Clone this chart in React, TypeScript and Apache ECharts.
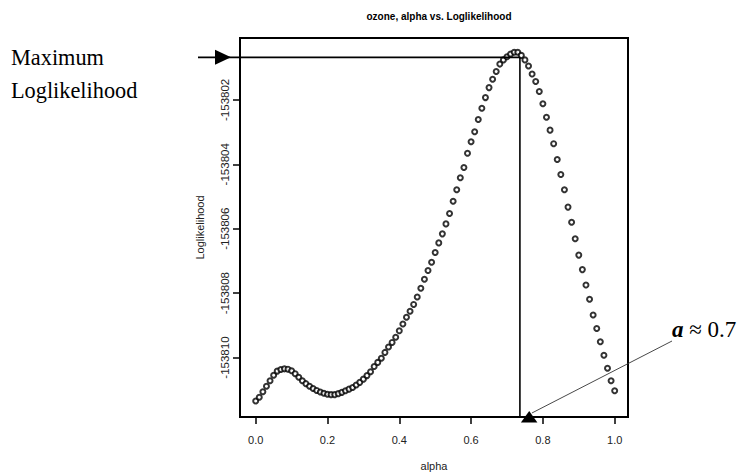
import { useEffect, useRef } from "react";
import * as echarts from "echarts";

// ---- data ----
const alpha: number[] = [
  0.0, 0.01, 0.02, 0.03, 0.04, 0.05, 0.06, 0.07, 0.08, 0.09,
  0.1, 0.11, 0.12, 0.13, 0.14, 0.15, 0.16, 0.17, 0.18, 0.19,
  0.2, 0.21, 0.22, 0.23, 0.24, 0.25, 0.26, 0.27, 0.28, 0.29,
  0.3, 0.31, 0.32, 0.33, 0.34, 0.35, 0.36, 0.37, 0.38, 0.39,
  0.4, 0.41, 0.42, 0.43, 0.44, 0.45, 0.46, 0.47, 0.48, 0.49,
  0.5, 0.51, 0.52, 0.53, 0.54, 0.55, 0.56, 0.57, 0.58, 0.59,
  0.6, 0.61, 0.62, 0.63, 0.64, 0.65, 0.66, 0.67, 0.68, 0.69,
  0.7, 0.71, 0.72, 0.73, 0.74, 0.75, 0.76, 0.77, 0.78, 0.79,
  0.8, 0.81, 0.82, 0.83, 0.84, 0.85, 0.86, 0.87, 0.88, 0.89,
  0.9, 0.91, 0.92, 0.93, 0.94, 0.95, 0.96, 0.97, 0.98, 0.99,
  1.0,
];

const loglik: number[] = [
  -153811.35, -153811.23, -153811.06, -153810.89, -153810.72, -153810.55, -153810.42, -153810.37, -153810.35, -153810.36,
  -153810.41, -153810.5, -153810.61, -153810.72, -153810.81, -153810.89, -153810.96, -153811.02, -153811.07, -153811.11,
  -153811.14, -153811.15, -153811.15, -153811.12, -153811.08, -153811.03, -153810.98, -153810.93, -153810.85, -153810.77,
  -153810.67, -153810.56, -153810.44, -153810.28, -153810.15, -153810.02, -153809.84, -153809.67, -153809.53, -153809.37,
  -153809.17, -153808.96, -153808.75, -153808.56, -153808.35, -153808.12, -153807.85, -153807.57, -153807.3, -153807.04,
  -153806.74, -153806.44, -153806.16, -153805.85, -153805.53, -153805.15, -153804.79, -153804.42, -153804.1, -153803.66,
  -153803.3, -153802.99, -153802.61, -153802.26, -153801.93, -153801.62, -153801.36, -153801.12, -153800.89, -153800.76,
  -153800.66, -153800.58, -153800.52, -153800.52, -153800.62, -153800.76, -153800.95, -153801.2, -153801.43, -153801.74,
  -153802.12, -153802.54, -153802.94, -153803.36, -153803.85, -153804.32, -153804.79, -153805.33, -153805.8, -153806.31,
  -153806.82, -153807.27, -153807.75, -153808.19, -153808.68, -153809.1, -153809.51, -153809.93, -153810.33, -153810.72,
  -153811.03,
];

const xTicks: number[] = [0, 0.2, 0.4, 0.6, 0.8, 1.0];
const yTicks: number[] = [-153810, -153808, -153806, -153804, -153802];

const X_MIN = -0.0437;
const X_MAX = 1.0371;
const Y_MIN = -153811.845;
const Y_MAX = -153800.08;

const ALPHA_HAT = 0.736;
const LL_MAX_LINE = -153800.68;

const TITLE = "ozone, alpha vs. Loglikelihood";
const X_NAME = "alpha";
const Y_NAME = "Loglikelihood";

export default function App() {
  const ref = useRef<HTMLDivElement>(null);

  useEffect(() => {
    const chart = echarts.init(ref.current!, null, { renderer: "svg" });
    const sans = "'Liberation Sans', Arial, sans-serif";
    const serif = "'Liberation Serif', 'Times New Roman', serif";

    chart.setOption({
      animation: false,
      backgroundColor: "#fff",
      title: {
        text: TITLE,
        left: 434,
        top: 6,
        textAlign: "center",
        textStyle: { fontFamily: sans, fontSize: 10, fontWeight: "bold", color: "#000" },
      },
      grid: {
        left: 240,
        right: 116,
        top: 38,
        bottom: 58,
        show: true,
        borderColor: "#000",
        borderWidth: 2,
        backgroundColor: "transparent",
      },
      xAxis: {
        type: "value",
        min: X_MIN,
        max: X_MAX,
        name: X_NAME,
        nameLocation: "middle",
        nameGap: 43,
        nameTextStyle: { fontFamily: sans, fontSize: 11, color: "#222" },
        axisLine: { show: false, onZero: false },
        splitLine: { show: false },
        axisTick: {
          show: true,
          length: 7,
          customValues: xTicks,
          lineStyle: { color: "#000", width: 1.5 },
        },
        axisLabel: {
          customValues: xTicks,
          margin: 17,
          fontFamily: sans,
          fontSize: 11,
          color: "#222",
          formatter: (v: number) => v.toFixed(1),
        },
      },
      yAxis: {
        type: "value",
        min: Y_MIN,
        max: Y_MAX,
        name: Y_NAME,
        nameLocation: "middle",
        nameGap: 35,
        nameTextStyle: { fontFamily: sans, fontSize: 11, color: "#222" },
        axisLine: { show: false, onZero: false },
        splitLine: { show: false },
        axisTick: {
          show: true,
          length: 7,
          customValues: yTicks,
          lineStyle: { color: "#000", width: 1.5 },
        },
        axisLabel: {
          customValues: yTicks,
          rotate: 90,
          margin: 9,
          fontFamily: sans,
          fontSize: 11.5,
          color: "#222",
          formatter: (v: number) => String(Math.round(v)),
        },
      },
      series: [
        {
          type: "scatter",
          data: alpha.map((a, i) => [a, loglik[i]]),
          symbol: "emptyCircle",
          symbolSize: 5,
          itemStyle: { color: "#000", borderColor: "#000", borderWidth: 1.7 },
          z: 3,
        },
      ],
    });

    const [px, py] = chart.convertToPixel({ gridIndex: 0 }, [ALPHA_HAT, LL_MAX_LINE]) as number[];
    const [, pyBottom] = chart.convertToPixel({ gridIndex: 0 }, [ALPHA_HAT, Y_MIN]) as number[];

    chart.setOption({
      graphic: [
        {
          type: "line",
          z: 100,
          shape: { x1: 198, y1: py, x2: px, y2: py },
          style: { stroke: "#000", lineWidth: 1.6 },
        },
        {
          type: "polygon",
          z: 100,
          shape: { points: [[215, py - 7.5], [231, py], [215, py + 7.5]] },
          style: { fill: "#000" },
        },
        {
          type: "line",
          z: 100,
          shape: { x1: px, y1: py, x2: px, y2: pyBottom },
          style: { stroke: "#000", lineWidth: 1.6 },
        },
        {
          type: "polygon",
          z: 100,
          shape: {
            points: [
              [px + 1, pyBottom + 5.5],
              [px + 9.3, pyBottom - 6],
              [px + 17.5, pyBottom + 5.5],
            ],
          },
          style: { fill: "#000" },
        },
        {
          type: "line",
          z: 100,
          shape: { x1: px + 12, y1: pyBottom - 4, x2: 672, y2: 341 },
          style: { stroke: "#333", lineWidth: 0.9 },
        },
        {
          type: "text",
          z: 100,
          x: 11,
          y: 57,
          scaleX: 0.93,
          style: {
            text: "Maximum",
            fontFamily: serif,
            fontSize: 24,
            fill: "#000",
            verticalAlign: "middle",
          },
        },
        {
          type: "text",
          z: 100,
          x: 11,
          y: 90,
          scaleX: 0.93,
          style: {
            text: "Loglikelihood",
            fontFamily: serif,
            fontSize: 24,
            fill: "#000",
            verticalAlign: "middle",
          },
        },
        {
          type: "text",
          z: 100,
          x: 672,
          y: 329,
          style: {
            text: "{a|a} ≈ 0.7",
            fontFamily: serif,
            fontSize: 23,
            fill: "#000",
            verticalAlign: "middle",
            rich: {
              a: { fontFamily: serif, fontSize: 23, fontWeight: "bold", fontStyle: "italic", fill: "#000" },
            },
          },
        },
      ],
    });

    return () => chart.dispose();
  }, []);

  return (
    <div
      ref={ref}
      style={{ position: "fixed", left: 0, top: 0, width: 744, height: 476 }}
    />
  );
}
